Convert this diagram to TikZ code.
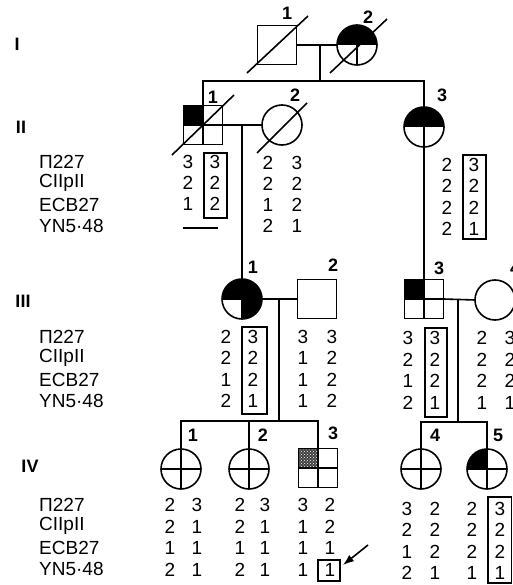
\documentclass[tikz,border=0pt]{standalone}
\usepackage{fontspec}
\setmainfont{Liberation Sans}
\usetikzlibrary{patterns,arrows.meta}
\newcommand\allelecol[5]{%
  \foreach \v [count=\k] in {#5} {\node[al] (#1-\k) at ({#2},{#3+#4*(\k-1)}) {\v};}}
\begin{document}
\begin{tikzpicture}[x=1pt,y=-1pt,
  lw/.style={line width=1.6pt},
  male/.style={draw, line width=1.6pt, rectangle, minimum size=39pt, inner sep=0pt, outer sep=0pt},
  fem/.style={draw, line width=1.6pt, circle, minimum size=40pt, inner sep=0pt, outer sep=0pt},
  num/.style={font=\fontsize{18}{18}\selectfont\bfseries, inner sep=0pt},
  gen/.style={font=\fontsize{18}{18}\selectfont\bfseries, inner sep=0pt},
  al/.style={font=\fontsize{19}{19}\selectfont, inner sep=0pt},
  lab/.style={font=\fontsize{19}{19}\selectfont, anchor=west, inner sep=0pt},
  box/.style={line width=1.4pt},
  tophalf/.style={path picture={
    \fill[black] (path picture bounding box.north west) rectangle (path picture bounding box.east);
    \draw[lw] (path picture bounding box.center) -- (path picture bounding box.south);}},
  threeq/.style={path picture={
    \fill[black] (path picture bounding box.north west) rectangle (path picture bounding box.east);
    \fill[black] (path picture bounding box.center) rectangle (path picture bounding box.south east);
    \draw[lw] (path picture bounding box.center) -- (path picture bounding box.south);
    \draw[lw] (path picture bounding box.west) -- (path picture bounding box.east);}},
  nwq/.style={path picture={
    \fill[black] (path picture bounding box.north west) rectangle (path picture bounding box.center);
    \draw[lw] (path picture bounding box.north) -- (path picture bounding box.south);
    \draw[lw] (path picture bounding box.west) -- (path picture bounding box.east);}},
  crossq/.style={path picture={
    \draw[lw] (path picture bounding box.north) -- (path picture bounding box.south);
    \draw[lw] (path picture bounding box.west) -- (path picture bounding box.east);}},
  stipq/.style={path picture={
    \fill[black!75] (path picture bounding box.north west) rectangle (path picture bounding box.center);
    \fill[pattern=crosshatch dots, pattern color=white] (path picture bounding box.north west) rectangle (path picture bounding box.center);
    \draw[lw] (path picture bounding box.north) -- (path picture bounding box.south);
    \draw[lw] (path picture bounding box.west) -- (path picture bounding box.east);}},
  ]
\useasboundingbox (0,0) rectangle (512,585);

% generation labels
\node[gen] (gI) at (17,44) {I};
\node[gen] (gII) at (21,127) {II};
\node[gen] (gIII) at (23,301) {III};
\node[gen] (gIV) at (30,466) {IV};

% Generation I
\node[male] (i1) at (277,45) {};
\node[num] (n-i1) at (287,13) {1};
\node[fem, tophalf] (i2) at (357,45) {};
\node[num] (n-i2) at (368,17) {2};
\draw[lw] (247,73) -- (308,16);
\draw[lw] (330,73) -- (387,19);
\coordinate (m1) at (320,45);
\coordinate (s1) at (320,81);
\draw[lw] (i1) -- (i2);
\draw[lw] (m1) -- (s1);

% Generation II
\node[male, nwq] (ii1) at (203,125) {};
\node[num] (n-ii1) at (213,97) {1};
\node[fem] (ii2) at (282,125) {};
\node[num] (n-ii2) at (295,95) {2};
\node[fem, tophalf] (ii3) at (424,127) {};
\node[num] (n-ii3) at (442,95) {3};
\draw[lw] (172,155) -- (234,95);
\draw[lw] (257,153) -- (307,103);
\draw[lw] (ii1.north) -- (ii1.north |- s1) -- (ii3.north |- s1) -- (ii3.north);
\draw[lw] (ii1) -- (ii2);
\coordinate (m2) at (242,125);

% Generation III
\node[fem, threeq] (iii1) at (242,299) {};
\node[num] (n-iii1) at (253,267) {1};
\node[male] (iii2) at (317,299) {};
\node[num] (n-iii2) at (333,265) {2};
\node[male, nwq] (iii3) at (424,299) {};
\node[num] (n-iii3) at (439,268) {3};
\node[fem] (iii4) at (495,300) {};
\node[num] (n-iii4) at (515,268) {4};
\draw[lw] (m2) -- (iii1.north);
\draw[lw] (ii3.south) -- (iii3.north);
\draw[lw] (iii1) -- (iii2);
\draw[lw] (iii3.east) -- (iii4.west);
\coordinate (m3) at (279,299);
\coordinate (s3) at (279,421);
\coordinate (m4) at (458,299);
\coordinate (s4) at (458,422);
\draw[lw] (m3) -- (s3);
\draw[lw] (m4) -- (s4);

% Generation IV
\node[fem, crossq] (iv1) at (181,469) {};
\node[num] (n-iv1) at (193,435) {1};
\node[fem, crossq] (iv2) at (249,469) {};
\node[num] (n-iv2) at (263,435) {2};
\node[male, stipq] (iv3) at (318,468) {};
\node[num] (n-iv3) at (333,433) {3};
\node[fem, crossq] (iv4) at (421,469) {};
\node[num] (n-iv4) at (435,435) {4};
\node[fem, nwq] (iv5) at (487,469) {};
\node[num] (n-iv5) at (498,435) {5};
\draw[lw] (iv1.north) -- (iv1.north |- s3) -- (iv3.north |- s3) -- (iv3.north);
\draw[lw] (iv2.north) -- (iv2.north |- s3);
\draw[lw] (iv4.north) -- (iv4.north |- s4) -- (iv5.north |- s4) -- (iv5.north);

% marker labels
\foreach \y [count=\g] in {162,337,505} {
  \node[lab] (mk\g-1) at (39,\y) {Π227};
  \node[lab] (mk\g-2) at (39,\y+21.3) {CIIpII};
  \node[lab] (mk\g-3) at (39,\y+42.6) {ECB27};
  \node[lab] (mk\g-4) at (39,\y+64) {YN5·48};
}

% alleles gen II
\allelecol{aii1a}{188}{162}{21}{3,2,1}
\allelecol{aii1b}{215}{162}{21}{3,2,2}
\draw[lw] (183,228) -- (218,228);
\draw[box] (204,153) rectangle (227,218);
\allelecol{aii2a}{268}{163}{21}{2,2,1,2}
\allelecol{aii2b}{297}{163}{21}{3,2,2,1}
\allelecol{aii3a}{447}{165}{21.3}{2,2,2,2}
\allelecol{aii3b}{474}{165}{21.3}{3,2,2,1}
\draw[box] (463,155) rectangle (486,239);

% alleles gen III
\allelecol{aiii1a}{226}{337}{21.3}{2,2,1,2}
\allelecol{aiii1b}{253}{337}{21.3}{3,2,2,1}
\draw[box] (242,327) rectangle (267,414);
\allelecol{aiii2a}{303}{337}{21.3}{3,1,1,1}
\allelecol{aiii2b}{332}{337}{21.3}{3,2,2,2}
\allelecol{aiii3a}{408}{338}{21.5}{3,2,1,2}
\allelecol{aiii3b}{435}{338}{21.5}{3,2,2,1}
\draw[box] (425,328) rectangle (447,417);
\allelecol{aiii4a}{482}{338}{21.5}{2,2,2,1}
\allelecol{aiii4b}{510}{338}{21.5}{3,2,2,1}

% alleles gen IV
\allelecol{aiv1a}{170}{505}{21.7}{2,2,1,2}
\allelecol{aiv1b}{197}{505}{21.7}{3,1,1,1}
\allelecol{aiv2a}{240}{505}{21.7}{2,2,1,2}
\allelecol{aiv2b}{265}{505}{21.7}{3,1,1,1}
\allelecol{aiv3a}{303}{505}{21.7}{3,1,1,1}
\allelecol{aiv3b}{330}{505}{21.7}{2,2,1,1}
\node[draw, box, minimum width=22pt, minimum height=21pt, inner sep=0pt] (iv3box) at (329,570.5) {};
\allelecol{aiv4a}{407}{509}{21.3}{3,2,1,2}
\allelecol{aiv4b}{435}{509}{21.3}{2,2,2,1}
\allelecol{aiv5a}{472}{509}{21.3}{2,2,2,1}
\allelecol{aiv5b}{500}{509}{21.3}{3,2,2,1}
\draw[box] (488,497) rectangle (511.3,583);

% arrow
\coordinate (arrtail) at (368,545);
\coordinate (arrtip) at (343,565);
\draw[lw, -{Latex[length=11pt,width=8pt]}] (arrtail) -- (arrtip);
\end{tikzpicture}
\end{document}
